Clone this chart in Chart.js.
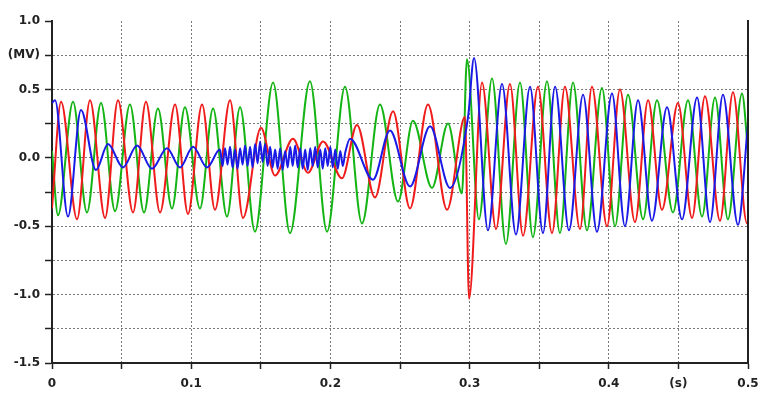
<!DOCTYPE html>
<html><head><meta charset="utf-8">
<script src="https://cdn.jsdelivr.net/npm/chart.js@4/dist/chart.umd.min.js"></script>
<style>html,body{margin:0;padding:0;background:#fff}</style>
</head><body>
<canvas id="c" width="768" height="400"></canvas>
<script>
// Time (s) and voltage (MV) at the turning points
const redT = [0.0000,0.0065,0.0180,0.0273,0.0381,0.0474,0.0582,0.0675,0.0776,0.0884,0.0977,0.1078,0.1171,0.1279,0.1372,
  0.1501,0.1602,0.1731,0.1839,0.1947,0.2083,0.2191,0.2320,0.2450,0.2572,0.2701,0.2838,0.2967,0.2996,
  0.3089,0.3190,0.3290,0.3384,0.3491,0.3592,0.3685,0.3793,0.3879,0.3987,0.4080,0.4188,0.4282,0.4382,0.4497,0.4598,0.4691,0.4799,0.4892,0.4993,0.5000];
const redV = [-0.37,0.41,-0.45,0.42,-0.44,0.42,-0.40,0.41,-0.40,0.39,-0.41,0.39,-0.38,0.42,-0.44,
  0.22,-0.13,0.14,-0.11,0.12,-0.15,0.24,-0.29,0.34,-0.37,0.39,-0.38,0.30,-1.03,
  0.55,-0.52,0.54,-0.57,0.52,-0.55,0.52,-0.52,0.52,-0.50,0.50,-0.47,0.42,-0.38,0.40,-0.44,0.45,-0.46,0.48,-0.48,-0.47];

const greenT = [0.0000,0.0043,0.0151,0.0251,0.0352,0.0453,0.0560,0.0661,0.0761,0.0862,0.0955,0.1063,0.1157,0.1257,0.1351,
  0.1458,0.1588,0.1710,0.1853,0.1976,0.2105,0.2227,0.2356,0.2486,0.2593,0.2730,0.2845,0.2945,0.2981,
  0.3067,0.3161,0.3261,0.3362,0.3455,0.3556,0.3649,0.3743,0.3843,0.3951,0.4045,0.4138,0.4246,0.4346,0.4461,0.4569,0.4670,0.4763,0.4856,0.4957,0.5000];
const greenV = [0.05,-0.42,0.41,-0.40,0.40,-0.39,0.39,-0.40,0.36,-0.37,0.37,-0.37,0.36,-0.43,0.37,
  -0.54,0.55,-0.55,0.56,-0.54,0.52,-0.48,0.39,-0.32,0.27,-0.22,0.25,-0.26,0.72,
  -0.45,0.58,-0.63,0.55,-0.58,0.56,-0.55,0.55,-0.53,0.51,-0.50,0.46,-0.45,0.42,-0.40,0.42,-0.43,0.44,-0.45,0.47,0.05];

const blueT = [0.0000,0.0022,0.0115,0.0208,0.0316,0.0402,0.0510,0.0611,0.0718,0.0826,0.0920,0.1013,0.1114,0.1207,
  0.1225,0.1243,0.1261,0.1279,0.1297,0.1315,0.1333,0.1351,0.1369,0.1387,
  0.1405,0.1423,0.1441,0.1459,0.1477,0.1495,0.1513,0.1531,0.1549,0.1567,
  0.1585,0.1603,0.1621,0.1639,0.1657,0.1675,0.1693,0.1711,0.1729,0.1747,
  0.1765,0.1783,0.1801,0.1819,0.1837,0.1855,0.1873,0.1891,0.1909,0.1927,
  0.1945,0.1963,0.1981,0.1999,0.2017,0.2035,0.2053,0.2071,0.2089,0.2107,
  0.2141,0.2306,0.2428,0.2572,0.2716,0.2859,0.2989,0.3032,
  0.3132,0.3233,0.3333,0.3434,0.3527,0.3614,0.3714,0.3815,0.3915,0.4023,0.4116,0.4210,0.4310,0.4418,0.4526,0.4634,0.4727,0.4820,0.4928,0.5000];
const blueV = [0.40,0.42,-0.43,0.35,-0.09,0.10,-0.07,0.09,-0.08,0.07,-0.07,0.08,-0.07,0.06,
  -0.06,0.07,-0.05,0.08,-0.07,0.06,-0.08,0.07,-0.05,0.09,
  -0.06,0.08,-0.07,0.10,-0.04,0.12,-0.03,0.10,-0.06,0.08,
  -0.07,0.06,-0.08,0.07,-0.09,0.05,-0.07,0.08,-0.06,0.09,
  -0.07,0.07,-0.08,0.06,-0.09,0.07,-0.06,0.08,-0.07,0.06,
  -0.08,0.07,-0.06,0.08,-0.07,0.06,-0.08,0.05,-0.06,0.04,
  0.14,-0.16,0.20,-0.21,0.23,-0.22,0.30,0.73,
  -0.53,0.54,-0.56,0.52,-0.55,0.52,-0.53,0.46,-0.54,0.47,-0.50,0.42,-0.46,0.37,-0.45,0.44,-0.47,0.46,-0.49,0.25];

// tick labels keyed by value x 100
const xTickLabels = {'0':'0','10':'0.1','20':'0.2','30':'0.3','40':'0.4','45':'(s)','50':'0.5'};
const yTickLabels = {'100':'1.0','75':'(MV)','50':'0.5','0':'0.0','-50':'-0.5','-100':'-1.0','-150':'-1.5'};

const pts = (T, V) => T.map((t, i) => ({x: t, y: V[i]}));

const frame = {
  id: 'frame',
  afterDraw(chart) {
    const {ctx, chartArea: a} = chart;
    ctx.save();
    ctx.strokeStyle = '#222';
    ctx.lineWidth = 2;
    ctx.beginPath();
    ctx.moveTo(a.right, a.top - 1);
    ctx.lineTo(a.right, a.bottom + 1);
    ctx.stroke();
    ctx.restore();
  }
};

const font = {family: 'DejaVu Sans', size: 12, weight: 'bold'};

new Chart(document.getElementById('c'), {
  type: 'line',
  data: {
    datasets: [
      {label: 'B', data: pts(blueT, blueV), borderColor: '#1a1ae6', order: 1},
      {label: 'A', data: pts(redT, redV), borderColor: '#f01c1c', order: 2},
      {label: 'C', data: pts(greenT, greenV), borderColor: '#14b414', order: 3}
    ]
  },
  options: {
    responsive: false,
    animation: false,
    devicePixelRatio: 1,
    layout: {padding: {left: 0, right: 20, top: 21, bottom: 0}},
    plugins: {legend: {display: false}, tooltip: {enabled: false}},
    elements: {
      point: {radius: 0},
      line: {borderWidth: 2, cubicInterpolationMode: 'monotone', fill: false, borderJoinStyle: 'round'}
    },
    scales: {
      x: {
        type: 'linear', min: 0, max: 0.5,
        afterFit(s) { s.height = 37; },
        ticks: {
          stepSize: 0.05, autoSkip: false, maxRotation: 0, padding: 8, color: '#222', font,
          callback: v => { const k = String(Math.round(v * 100)); return xTickLabels[k] !== undefined ? xTickLabels[k] : ''; }
        },
        grid: {
          color: c => (c.tick && Math.round(c.tick.value * 100) === 0) ? 'rgba(0,0,0,0)' : '#7a7a7a',
          lineWidth: 1, tickLength: 6, tickColor: '#222', tickWidth: 1.5
        },
        border: {display: true, color: '#222', width: 2, dash: [2, 2]}
      },
      y: {
        type: 'linear', min: -1.5, max: 1.0,
        afterFit(s) { s.width = 52; },
        ticks: {
          stepSize: 0.25, autoSkip: false, padding: 5, color: '#222', font,
          callback: v => { const k = String(Math.round(v * 100)); return yTickLabels[k] !== undefined ? yTickLabels[k] : ''; }
        },
        grid: {
          color: c => { if (!c.tick) return '#7a7a7a'; const k = Math.round(c.tick.value * 100); return (k === 100 || k === -150) ? 'rgba(0,0,0,0)' : '#7a7a7a'; },
          lineWidth: 1, tickLength: 7, tickColor: '#222', tickWidth: 1.5
        },
        border: {display: true, color: '#222', width: 2, dash: [2, 2]}
      }
    }
  },
  plugins: [frame]
});
</script>
</body></html>
